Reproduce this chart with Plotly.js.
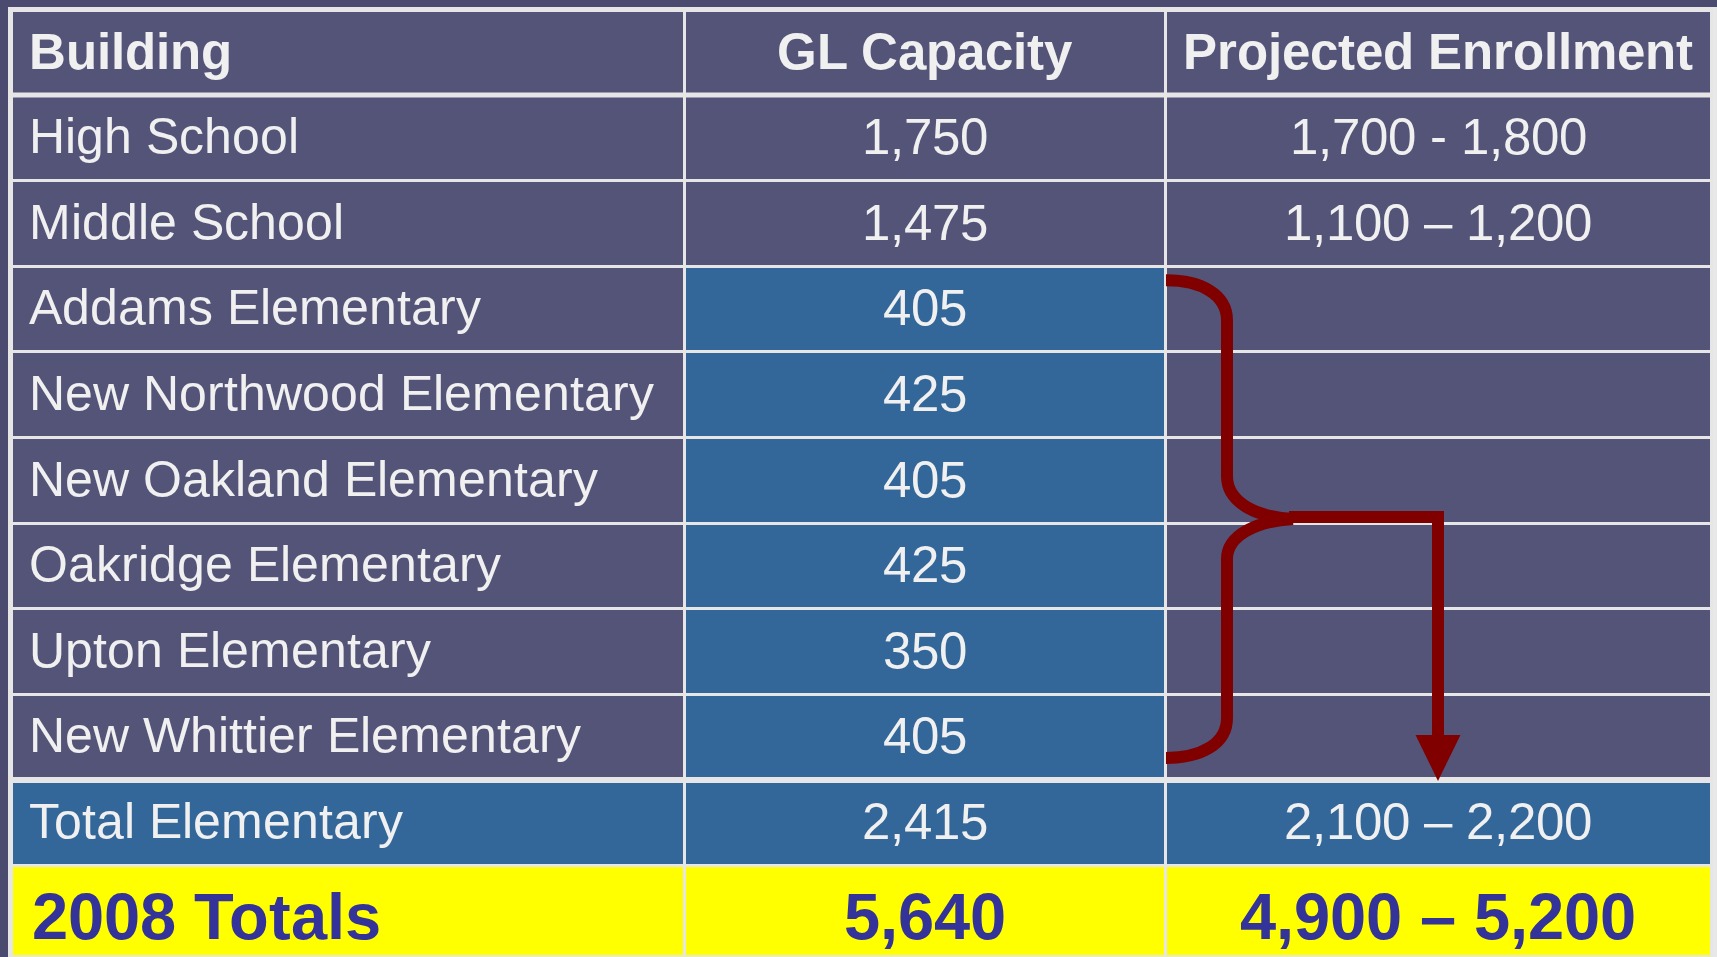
<!DOCTYPE html>
<html><head><meta charset="utf-8">
<script src="https://cdn.plot.ly/plotly-3.0.1.min.js"></script>
<style>
html,body{margin:0;padding:0;background:#e8e8e8;overflow:hidden}
/* Liberation Sans with a taller ascent box, so the table centres each label in its row */
@font-face{font-family:'CellSans';src:local('Liberation Sans'),local('LiberationSans'),local('LiberationSans-Regular');font-weight:400;ascent-override:100%;descent-override:10%;line-gap-override:0%}
@font-face{font-family:'CellSans';src:local('Liberation Sans Bold'),local('LiberationSans-Bold');font-weight:700;ascent-override:100%;descent-override:15%;line-gap-override:0%}
</style>
</head><body><div id="chart" style="width:1717px;height:957px"></div>
<script>
// ---- data ----
const headers = ['Building', 'GL Capacity', 'Projected Enrollment'];
const buildings = ['High School', 'Middle School', 'Addams Elementary', 'New Northwood Elementary',
  'New Oakland Elementary', 'Oakridge Elementary', 'Upton Elementary', 'New Whittier Elementary',
  'Total Elementary', '2008 Totals'];
const capacity = ['1,750', '1,475', '405', '425', '405', '425', '350', '405', '2,415', '5,640'];
const projected = ['1,700 - 1,800', '1,100 \u2013 1,200', '', '', '', '', '', '',
  '2,100 \u2013 2,200', '4,900 \u2013 5,200'];

// ---- styling ----
const W = 1717, H = 957;
const PURPLE = '#545479', BLUE = '#336699', YELLOW = '#ffff00', LINE = '#e6e6e6';
const TXT = '#f0f0f0', TOTTXT = '#333399', MAROON = '#800000', DARK = '#4b4b6f';
const colW = [673, 481, 546];
const tLeft = 11, tTop = 9.5, rowH = 85.6;
const FAM = 'CellSans, Liberation Sans, Arial, sans-serif';

const role = buildings.map(b => b === '2008 Totals' ? 'grand' : b === 'Total Elementary' ? 'sub' : b.includes('Elementary') ? 'elem' : 'school');
const fillFor = (col, r) => r === 'grand' ? YELLOW : r === 'sub' ? BLUE : (col === 1 && r === 'elem') ? BLUE : PURPLE;
const fills = [0, 1, 2].map(c => role.map(r => fillFor(c, r)));
const sizes = [0, 1, 2].map(c => role.map(r => r === 'grand' ? 65 : (c === 0 ? 50 : 51)));
const colors = [0, 1, 2].map(() => role.map(r => r === 'grand' ? TOTTXT : TXT));
const wrap = (s, bold, col) => (col === 0 ? '\u2009' : '') + (bold ? '<b>' + s + '</b>' : '<span>' + s + '</span>');
const fmt = (arr, col) => arr.map((s, i) => s === '' ? '' : wrap(s, role[i] === 'grand', col));

function draw() {
  const trace = {
    type: 'table',
    domain: {x: [tLeft / W, (tLeft + colW[0] + colW[1] + colW[2]) / W], y: [0, 1 - tTop / H]},
    columnwidth: colW,
    header: {
      values: headers.map((h, i) => [wrap(h, true, i)]),
      align: ['left', 'center', 'center'],
      height: rowH,
      fill: {color: PURPLE},
      line: {color: LINE, width: 3},
      font: {family: FAM, size: 51, color: TXT}
    },
    cells: {
      values: [fmt(buildings, 0), fmt(capacity, 1), fmt(projected, 2)],
      align: ['left', 'center', 'center'],
      height: rowH,
      fill: {color: fills},
      line: {color: LINE, width: 3},
      font: {family: FAM, size: sizes, color: colors}
    }
  };

  // ---- decoration (bracket + arrow, frame lines), placed from table geometry ----
  const px = x => x / W, py = y => 1 - y / H;
  const col2L = tLeft + colW[0] + colW[1];
  const col2C = col2L + colW[2] / 2;
  const rowTop = i => tTop + rowH * (i + 1);
  const bTop = rowTop(2) + 14, bBot = rowTop(8) - 22, bMid = (bTop + bBot) / 2;
  const vx = col2L + 62, tipX = col2L + 128;
  const P = (x, y) => px(x) + ',' + py(y);
  const bracePath = 'M' + P(col2L + 1, bTop) +
    ' C' + P(col2L + 36, bTop) + ' ' + P(vx, bTop + 14) + ' ' + P(vx, bTop + 40) +
    ' L' + P(vx, bMid - 43) +
    ' C' + P(vx, bMid - 16) + ' ' + P(vx + 30, bMid - 2) + ' ' + P(tipX, bMid) +
    ' M' + P(tipX, bMid) +
    ' C' + P(vx + 30, bMid + 2) + ' ' + P(vx, bMid + 16) + ' ' + P(vx, bMid + 40) +
    ' L' + P(vx, bBot - 40) +
    ' C' + P(vx, bBot - 14) + ' ' + P(col2L + 36, bBot) + ' ' + P(col2L + 1, bBot);
  const arrowPath = 'M' + P(tipX - 4, bMid - 2) + ' L' + P(col2C, bMid - 2) + ' L' + P(col2C, rowTop(8) - 42);
  const headPath = 'M' + P(col2C - 22.5, rowTop(8) - 45) + ' L' + P(col2C + 22.5, rowTop(8) - 45) + ' L' + P(col2C, rowTop(8) + 1) + ' Z';
  const bar = (x0, x1, y0, y1) => ({type: 'rect', xref: 'paper', yref: 'paper', x0: px(x0), x1: px(x1), y0: py(y1), y1: py(y0), fillcolor: LINE, line: {width: 0}});

  const tRight = tLeft + colW[0] + colW[1] + colW[2];
  const shapes = [
    {type: 'rect', xref: 'paper', yref: 'paper', layer: 'below', x0: 0, x1: 1, y0: py(7), y1: 1, fillcolor: DARK, line: {width: 0}},
    {type: 'rect', xref: 'paper', yref: 'paper', layer: 'below', x0: 0, x1: px(8), y0: 0, y1: 1, fillcolor: DARK, line: {width: 0}},
    bar(8, tRight, 7, 12),                               // top frame
    bar(8, 13, 7, H),                                    // left frame
    bar(8, tRight, rowTop(0) - 2.5, rowTop(0) + 2.5),    // under header
    bar(8, tRight, rowTop(8) - 3, rowTop(8) + 3),        // above Total Elementary
    {type: 'path', xref: 'paper', yref: 'paper', path: bracePath, line: {color: MAROON, width: 12}},
    {type: 'path', xref: 'paper', yref: 'paper', path: arrowPath, line: {color: MAROON, width: 12}},
    {type: 'path', xref: 'paper', yref: 'paper', path: headPath, fillcolor: MAROON, line: {color: MAROON, width: 0}}
  ];

  Plotly.newPlot('chart', [trace], {
    width: W, height: H,
    margin: {l: 0, r: 0, t: 0, b: 0},
    paper_bgcolor: '#e8e8e8',
    shapes: shapes,
    showlegend: false
  }, {displayModeBar: false, staticPlot: true});
}

const fontsReady = (document.fonts && document.fonts.load)
  ? Promise.all([document.fonts.load('51px CellSans'), document.fonts.load('bold 51px CellSans')]).catch(() => null)
  : Promise.resolve();
fontsReady.then(draw, draw);
</script></body></html>
